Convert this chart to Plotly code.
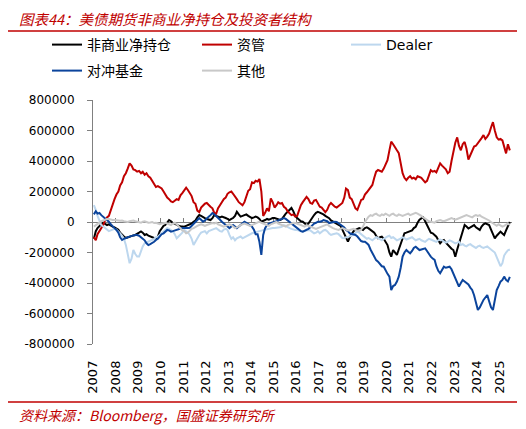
import pandas as pd
import plotly.graph_objects as go

# monthly readings, Jan 2007 - Jun 2025, in thousands of contracts
net_noncomm = [
    -110, -60, -40, -25, -15, -5, -10, -20, -15, -25, -30, -35,
    -40, -50, -70, -85, -95, -105, -100, -98, -92, -88, -85, -80,
    -70, -62, -70, -85, -80, -90, -96, -100, -105, -108, -95, -60,
    -40, -25, -20, -5, 13, 5, -7, -10, -20, -25, -28, -30,
    -31, -25, -20, -15, -10, 2, 10, 30, 46, 40, 30, 26,
    20, 15, 13, 25, 46, 40, 35, 30, 35, 28, 26, 20,
    13, 20, 26, 40, 67, 50, 35, 40, 46, 50, 40, 30,
    26, 30, 35, 30, 20, 2, 5, 13, 20, 15, 20, 26,
    26, 20, 18, 13, 20, 40, 55, 67, 80, 92, 70, 40,
    26, 15, 5, 2, -10, -20, -10, 10, 30, 46, 60, 67,
    62, 57, 50, 40, 35, 25, 10, 2, -5, -15, -20, -25,
    -50, -74, -100, -129, -100, -74, -60, -52, -45, -40, -45, -52,
    -40, -35, -42, -50, -60, -70, -90, -107, -100, -96, -110, -130,
    -151, -200, -227, -184, -200, -216, -180, -140, -110, -74, -70, -65,
    -63, -55, -40, -31, -5, 15, 24, 31, 5, -20, -45, -70,
    -74, -85, -96, -120, -140, -125, -118, -135, -151, -165, -175, -184,
    -227, -180, -140, -90, -50, -20, -30, -42, -35, -25, -20, -35,
    -45, -52, -30, -15, -9, -15, -20, -50, -85, -107, -90, -75,
    -63, -75, -85, -55, -31, 0,
]
asset_mgr = [
    -100, -120, -80, -60, -40, -20, 10, 30, 40, 80, 110, 150,
    180, 200, 240, 260, 300, 320, 350, 385, 370, 345, 340, 330,
    335, 320, 330, 310, 320, 300, 290, 270, 250, 230, 235, 225,
    220, 200, 180, 160, 150, 135, 130, 140, 150, 145, 175, 190,
    205, 225, 210, 190, 170, 130, 120, 75, 65, 95, 110, 120,
    125, 110, 100, 90, 60, 55, 90, 110, 130, 150, 160, 185,
    195, 200, 185, 170, 150, 130, 120, 110, 130, 170, 205, 215,
    260, 255, 270, 265, 282, 200, 40, 60, 90, 70, 155, 130,
    95, 110, 130, 120, 125, 100, 90, 70, 60, 45, 50, 35,
    40, 80, 110, 130, 150, 165, 150, 125, 120, 140, 145, 120,
    100, 95, 80, 65, 80, 110, 125, 110, 100, 95, 105, 110,
    125, 160, 220, 210, 160, 150, 120, 90, 80, 110, 145, 150,
    180, 195, 210, 225, 243, 290, 330, 341, 335, 330, 350, 380,
    406, 470, 527, 510, 494, 470, 452, 380, 320, 290, 275, 290,
    300, 285, 290, 280, 300, 295, 290, 275, 260, 270, 310, 340,
    330, 335, 325, 350, 385, 370, 355, 345, 320, 330, 400, 470,
    520, 555, 500, 470, 510, 525, 480, 410, 440, 460, 495, 500,
    515, 530, 550, 570, 545, 560, 580, 620, 655, 600, 555, 540,
    545, 535, 490, 450, 510, 470,
]
dealer = [
    110, 80, 40, 10, -20, -30, -40, -50, -60, -55, -50, -45,
    -50, -60, -75, -90, -110, -150, -200, -270, -240, -184, -210, -227,
    -227, -184, -160, -140, -135, -129, -125, -118, -110, -100, -96, -85,
    -74, -60, -50, -40, -45, -52, -60, -80, -107, -95, -85, -70,
    -52, -60, -70, -85, -110, -150, -130, -100, -85, -70, -63, -60,
    -75, -60, -55, -52, -45, -40, -50, -60, -63, -50, -45, -52,
    -85, -110, -100, -120, -107, -100, -95, -107, -100, -90, -85, -80,
    -74, -70, -65, -63, -60, -55, -52, -50, -48, -45, -40, -40,
    -40, -38, -40, -35, -30, -20, -25, -35, -40, -45, -50, -52,
    -52, -55, -58, -63, -60, -55, -52, -55, -65, -74, -70, -60,
    -74, -65, -55, -52, -60, -75, -85, -80, -75, -74, -80, -95,
    -105, -107, -100, -98, -96, -90, -80, -70, -63, -70, -80, -90,
    -100, -110, -105, -115, -120, -110, -100, -105, -115, -120, -110, -100,
    -95, -90, -105, -100, -110, -120, -115, -110, -100, -105, -115, -110,
    -105, -100, -110, -120, -115, -110, -120, -125, -130, -120, -110, -115,
    -120, -125, -130, -120, -115, -120, -125, -135, -130, -120, -125, -130,
    -140, -135, -130, -150, -145, -155, -160, -150, -145, -155, -165, -170,
    -160, -155, -165, -170, -165, -160, -170, -180, -190, -200, -230, -260,
    -290, -270, -220, -200, -185, -180,
]
hedge_fund = [
    50, 70, 55, 59, 45, 35, 20, 10, 2, -15, -31, -40,
    -52, -70, -100, -118, -110, -107, -100, -96, -90, -88, -85, -85,
    -90, -100, -107, -120, -140, -151, -145, -140, -130, -118, -110, -95,
    -80, -74, -65, -52, -55, -63, -60, -55, -52, -48, -45, -40,
    -40, -42, -40, -38, -25, -7, 5, 15, 26, 15, 2, 10,
    25, 35, 45, 59, 50, 40, 26, 15, 2, -10, -20, -30,
    -40, -30, -20, -30, -40, -30, -20, -10, 2, -5, -15, -25,
    -31, -50, -80, -80, -130, -216, -85, -40, -20, -10, -5, 2,
    2, 5, 10, 13, 20, 26, 20, 10, 2, -10, -20, -31,
    -40, -52, -60, -63, -58, -52, -45, -35, -20, -10, -5, 2,
    2, 5, 13, 10, 5, -7, -3, 0, 2, 0, -10, -20,
    -25, -35, -52, -60, -74, -78, -80, -85, -95, -110, -125, -129,
    -129, -140, -150, -180, -205, -230, -250, -260, -275, -290, -293, -320,
    -340, -358, -446, -420, -413, -390, -358, -300, -227, -200, -184, -195,
    -205, -190, -170, -162, -175, -184, -180, -175, -173, -190, -210, -227,
    -240, -249, -290, -320, -336, -310, -293, -300, -295, -293, -310, -340,
    -358, -390, -424, -400, -380, -390, -402, -410, -430, -446, -480, -530,
    -577, -560, -530, -511, -495, -479, -520, -560, -577, -520, -446, -420,
    -391, -380, -358, -380, -390, -360,
]
other = [
    -30, -20, -10, -5, 5, 10, 15, 20, 19, 15, 13, 13,
    13, 10, 8, 10, 5, 2, 0, 5, 8, 10, 5, 2,
    0, -5, 2, 5, 0, -5, -3, 0, -7, -5, -10, -15,
    -10, -7, -5, -10, -15, -20, -10, -5, -15, -30, -45, -55,
    -60, -74, -70, -55, -45, -40, -30, -25, -20, -15, -20, -25,
    -20, -15, -10, -7, -10, -5, -15, -20, -25, -30, -25, -20,
    -15, -20, -30, -40, -35, -25, -20, -15, -10, -15, -20, -25,
    -20, -15, -10, -5, 2, -5, -10, -15, -20, -25, -15, -10,
    -5, 0, -10, -15, -20, -25, -30, -20, -15, -10, -5, -7,
    -10, -15, -20, -25, -30, -20, -25, -30, -35, -40, -45, -40,
    -35, -30, -25, -20, -15, -25, -35, -40, -45, -50, -52, -45,
    -40, -45, -50, -55, -52, -50, -45, -52, -55, -60, -50, -30,
    0, 20, 35, 45, 40, 50, 55, 45, 40, 50, 45, 55,
    45, 40, 50, 55, 45, 40, 50, 45, 40, 45, 50, 55,
    45, 50, 55, 60, 55, 50, 40, 30, 20, 10, 5, 2,
    0, -5, 5, 10, 13, 8, 5, 10, 15, 20, 25, 20,
    15, 20, 25, 30, 35, 40, 45, 40, 35, 30, 40, 45,
    40, 45, 35, 30, 25, 20, 10, 0, -10, -20, -25, -15,
    -20, -30, -25, -15, -10, -20,
]

months = pd.date_range("2007-01-01", "2025-06-01", freq="MS") + pd.Timedelta(days=14)

y_ticks = [800000, 600000, 400000, 200000, 0, -200000, -400000, -600000, -800000]
y_labels = ["800000", "600000", "400000", "200000", "0",
            "-200000", "-400000", "-600000", "-800000"]

# the page body adds an 8px margin, so the figure is 8px smaller and
# every reference pixel position is shifted by OFF
OFF = 8
W, H = 526 - OFF, 429 - OFF
L, T = 93 - OFF, 100 - OFF
R, B = W - (512 - OFF), H - (344 - OFF)
pw, ph = W - L - R, H - T - B


def px_x(p):
    return (p - OFF - L) / pw


def px_y(q):
    return (H - B - (q - OFF)) / ph


# name, values, colour, legend id, legend position (reference px)
series = [
    ("非商业净持仓", net_noncomm, "#000000", "legend", (47, 45)),
    ("资管", asset_mgr, "#C00000", "legend2", (197, 45)),
    ("Dealer", dealer, "#BDD7EE", "legend3", (346, 45)),
    ("对冲基金", hedge_fund, "#0B449C", "legend4", (47, 71)),
    ("其他", other, "#C8C8C8", "legend5", (197, 71)),
]

font_fam = "DejaVu Sans, Noto Sans CJK SC"
red = "#C00000"

fig = go.Figure()
legends = {}
for name, vals, color, leg, (lx, ly) in series:
    fig.add_trace(go.Scatter(
        x=months, y=[v * 1000 for v in vals], name=name, mode="lines",
        line=dict(color=color, width=2), legend=leg,
    ))
    legends[leg] = dict(
        orientation="h", xref="paper", yref="paper",
        x=px_x(lx), y=px_y(ly), xanchor="left", yanchor="middle",
        font=dict(family=font_fam, size=14), bgcolor="rgba(0,0,0,0)",
    )

fig.update_layout(
    width=W, height=H,
    margin=dict(l=L, r=R, t=T, b=B),
    paper_bgcolor="white", plot_bgcolor="white",
    font=dict(family=font_fam, size=12, color="black"),
    xaxis=dict(
        type="date", range=["2007-01-01", "2025-07-20"],
        tick0="2007-01-01", dtick="M12", tickformat="%Y", tickangle=-90,
        showline=False, showgrid=False, zeroline=False, ticks="",
        tickfont=dict(size=13), ticklabelstandoff=13, automargin=False,
    ),
    xaxis2=dict(
        type="date", overlaying="x", matches="x", anchor="free", position=0.5,
        tick0="2007-01-01", dtick="M12", showticklabels=False,
        showline=True, linecolor="#808080", linewidth=1,
        ticks="inside", ticklen=4, tickcolor="#808080",
        showgrid=False, zeroline=False, layer="below traces", automargin=False,
    ),
    yaxis=dict(
        range=[-800000, 800000], tickvals=y_ticks, ticktext=y_labels,
        showline=True, linecolor="#808080", linewidth=1,
        ticks="outside", ticklen=5, tickcolor="#808080",
        ticklabelstandoff=10, showgrid=False, zeroline=False, automargin=False,
    ),
    showlegend=True,
    **legends,
)

# empty trace so the zero-line axis gets its subplot
fig.add_trace(go.Scatter(x=[], y=[], xaxis="x2", showlegend=False, hoverinfo="skip"))

# title, red rules and source line
fig.add_annotation(
    text="图表44：美债期货非商业净持仓及投资者结构", xref="paper", yref="paper",
    x=px_x(17), y=px_y(19), xanchor="left", yanchor="middle", showarrow=False,
    font=dict(family="Noto Sans CJK SC", size=14.5, color=red, style="italic"),
)
fig.add_shape(type="line", xref="paper", yref="paper",
              x0=px_x(5), x1=px_x(517), y0=px_y(31), y1=px_y(31),
              line=dict(color=red, width=1.5))
fig.add_shape(type="line", xref="paper", yref="paper",
              x0=px_x(5), x1=px_x(517), y0=px_y(402), y1=px_y(402),
              line=dict(color=red, width=1.5))
fig.add_annotation(
    text="资料来源：Bloomberg，国盛证券研究所", xref="paper", yref="paper",
    x=px_x(17), y=px_y(415), xanchor="left", yanchor="middle", showarrow=False,
    font=dict(family="Noto Sans CJK SC", size=14, color=red, style="italic"),
)

fig.write_html("out.html")
